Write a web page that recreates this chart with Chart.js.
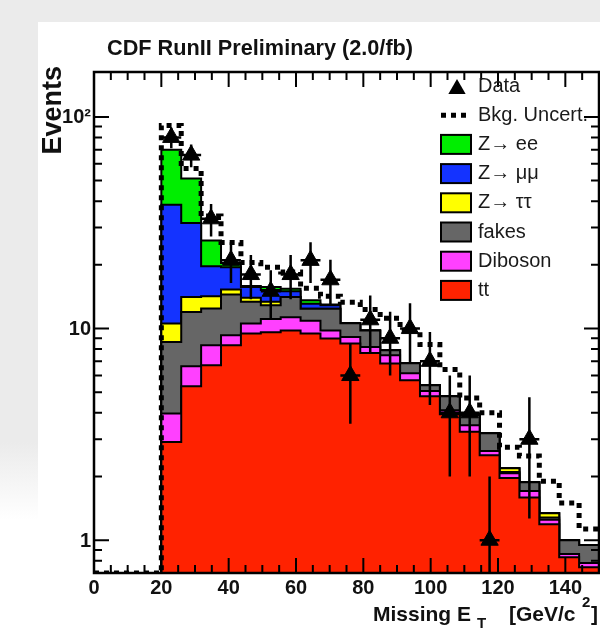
<!DOCTYPE html>
<html>
<head>
<meta charset="utf-8">
<script src="https://cdn.jsdelivr.net/npm/chart.js@4.4.0/dist/chart.umd.min.js"></script>
<style>
  html, body { margin: 0; padding: 0; overflow: hidden; background: #fff; }
  #wrap { position: relative; width: 600px; height: 629px; overflow: hidden; }
  .shade-top { position: absolute; left: 0; top: 0; width: 600px; height: 22px; background: #ebebeb; }
  .shade-left { position: absolute; left: 0; top: 0; width: 38px; height: 520px; background: linear-gradient(#ebebeb 85%, #fff); }
  canvas { position: absolute; left: 0; top: 0; }
</style>
</head>
<body>
<div id="wrap">
  <div class="shade-top"></div>
  <div class="shade-left"></div>
  <canvas id="met" width="610" height="629"></canvas>
</div>
<script>
// missing ET bins (GeV): 22 bins between 20 and 150
const binEdges = [20, 25.91, 31.82, 37.73, 43.64, 49.55, 55.45, 61.36, 67.27, 73.18, 79.09, 85,
                  90.91, 96.82, 102.73, 108.64, 114.55, 120.45, 126.36, 132.27, 138.18, 144.09, 150];

// expected events per bin, one array per background
const ttbar   = [2.91, 5.34, 6.71, 8.34, 9.47, 9.6, 9.8, 9.47, 8.97, 8.5, 7.67, 6.83, 5.7, 4.79, 3.94, 3.25, 2.52, 1.97, 1.59, 1.19, 0.83, 0.745];
const diboson = [1.06, 1.30, 1.63, 0.96, 1.09, 1.5, 1.5, 1.43, 0.83, 0.63, 0.52, 0.65, 0.45, 0.28, 0.17, 0.24, 0.12, 0.10, 0.12, 0.06, 0.03, 0.035];
const fakes   = [4.67, 5.34, 4.09, 5.2, 2.84, 1.8, 2.8, 1.5, 2.6, 1.47, 1.61, 0.42, 0.71, 0.33, 0.68, 0.40, 0.56, 0.03, 0.17, 0.03, 0.14, 0.17];
const zTauTau = [1.92, 2.12, 1.77, 0.8, 0.6, 0.5, 0, 0, 0, 0, 0, 0, 0, 0, 0, 0, 0, 0.09, 0, 0.06, 0, 0];
const zMuMu   = [27.9, 17.4, 5.5, 4.2, 1.7, 1.8, 0.9, 0.7, 0.5, 0, 0, 0, 0, 0, 0, 0, 0, 0, 0, 0, 0, 0];
const zEE     = [31.5, 19.6, 6.4, 0.9, 0.2, 0.5, 0.4, 0.5, 0.1, 0, 0, 0, 0, 0, 0, 0, 0, 0, 0, 0, 0, 0];

// upper edge of the background uncertainty band
const bkgUpper = [91, 57, 34, 25.5, 20.5, 19.5, 18.5, 15.5, 14.2, 13.3, 12.3, 11.2, 9.8, 8.4, 6.4, 4.7, 4.0, 2.75, 2.5, 1.9, 1.5, 1.13];

// observed events
const dataCounts = [80, 66, 33, 21, 18, 15, 18, 21, 17, 6, 11, 9, 10, 7, 4, 4, 1, 0, 3, 0, 0, 0];

const xTickLabels = [0, 20, 40, 60, 80, 100, 120, 140];
const yTickLabels = [[1, '1'], [10, '10'], [100, '10\u00b2']];

const X_MIN = 0, X_MAX = 150;
const Y_MIN = 0.7, Y_MAX = 163;

const layers = [
  { label: 'tt',              values: ttbar,   color: '#ff2200' },
  { label: 'Diboson',         values: diboson, color: '#ff40ff' },
  { label: 'fakes',           values: fakes,   color: '#666666' },
  { label: 'Z\u2192 \u03c4\u03c4', values: zTauTau, color: '#ffff00' },
  { label: 'Z\u2192 \u03bc\u03bc', values: zMuMu,   color: '#1433ff' },
  { label: 'Z\u2192 ee',      values: zEE,     color: '#00ee00' }
];

const FONT = '"Liberation Sans", Arial, Helvetica, sans-serif';

// step-histogram outline: rises from the floor at the first edge, then one step per bin
function histPoints(vals, startX) {
  const pts = [{ x: startX, y: Y_MIN }];
  vals.forEach((v, i) => pts.push({ x: binEdges[i], y: v }));
  pts.push({ x: binEdges[vals.length], y: vals[vals.length - 1] });
  return pts;
}

let running = ttbar.map(() => 0);
const stackSets = layers.map((l, k) => {
  running = running.map((v, i) => v + l.values[i]);
  return {
    type: 'line',
    label: l.label,
    data: histPoints(running, binEdges[0]),
    stepped: true,
    borderColor: '#000',
    borderWidth: 2,
    backgroundColor: l.color,
    fill: k === 0 ? 'start' : '-1',
    pointRadius: 0,
    order: 3
  };
});

const bandSet = {
  type: 'line',
  label: 'Bkg. Uncert.',
  data: histPoints(bkgUpper, X_MIN),
  stepped: true,
  borderColor: '#000',
  borderWidth: 5,
  borderDash: [5, 5],
  borderCapStyle: 'butt',
  fill: false,
  pointRadius: 0,
  order: 2
};

const dataPts = [];
dataCounts.forEach((n, i) => {
  if (n > 0) dataPts.push({ x: (binEdges[i] + binEdges[i + 1]) / 2, y: n, lo: binEdges[i], hi: binEdges[i + 1] });
});

const dataSet = {
  type: 'scatter',
  label: 'Data',
  data: dataPts,
  pointStyle: 'triangle',
  pointRadius: 10,
  backgroundColor: '#000',
  borderColor: '#000',
  borderWidth: 1,
  order: 1
};

function triangle(ctx, x, y, r) {
  ctx.beginPath();
  for (let k = 0; k < 3; k++) {
    const a = k * 2 * Math.PI / 3;
    ctx.lineTo(x + Math.sin(a) * r, y - Math.cos(a) * r);
  }
  ctx.closePath();
  ctx.fill();
}

// poisson error bars plus bin-width bars on the data points
const errorBars = {
  id: 'errorBars',
  afterDatasetsDraw(chart) {
    const { ctx, scales: { x, y }, chartArea } = chart;
    ctx.save();
    ctx.beginPath();
    ctx.rect(chartArea.left, chartArea.top, chartArea.right - chartArea.left, chartArea.bottom - chartArea.top);
    ctx.clip();
    ctx.strokeStyle = '#000';
    ctx.lineWidth = 2.5;
    dataPts.forEach(p => {
      const e = Math.sqrt(p.y);
      const px = x.getPixelForValue(p.x);
      const py = y.getPixelForValue(p.y);
      ctx.beginPath();
      ctx.moveTo(px, y.getPixelForValue(p.y + e));
      ctx.lineTo(px, y.getPixelForValue(Math.max(p.y - e, Y_MIN)));
      ctx.moveTo(x.getPixelForValue(p.lo), py);
      ctx.lineTo(x.getPixelForValue(p.hi), py);
      ctx.stroke();
    });
    ctx.restore();
  }
};

// frame, inward ticks, labels, title and legend
const decorations = {
  id: 'decorations',
  afterDraw(chart) {
    const { ctx, scales: { x, y }, chartArea: a } = chart;
    ctx.save();
    ctx.strokeStyle = '#000';
    ctx.fillStyle = '#111';

    ctx.lineWidth = 2.5;
    ctx.strokeRect(a.left, a.top, a.right - a.left, a.bottom - a.top);

    ctx.lineWidth = 2;
    ctx.beginPath();
    for (let v = X_MIN; v <= X_MAX; v += 5) {
      const px = x.getPixelForValue(v);
      const len = v % 20 === 0 ? 15 : 8;
      ctx.moveTo(px, a.bottom); ctx.lineTo(px, a.bottom - len);
      ctx.moveTo(px, a.top);    ctx.lineTo(px, a.top + len);
    }
    for (let d = 0.1; d <= 100; d *= 10) {
      for (let m = 1; m <= 9; m++) {
        const v = d * m;
        if (v < Y_MIN - 1e-9 || v > Y_MAX) continue;
        const py = y.getPixelForValue(v);
        const len = m === 1 ? 15 : 8;
        ctx.moveTo(a.left, py);  ctx.lineTo(a.left + len, py);
        ctx.moveTo(a.right, py); ctx.lineTo(a.right - len, py);
      }
    }
    ctx.stroke();

    // tick labels
    ctx.font = 'bold 20px ' + FONT;
    ctx.textAlign = 'center';
    ctx.textBaseline = 'top';
    xTickLabels.forEach(v => ctx.fillText(String(v), x.getPixelForValue(v), a.bottom + 5));
    ctx.textAlign = 'right';
    ctx.textBaseline = 'middle';
    yTickLabels.forEach(([v, t]) => ctx.fillText(t, a.left - 3, y.getPixelForValue(v) + 1));

    // title
    ctx.textAlign = 'left';
    ctx.textBaseline = 'alphabetic';
    ctx.font = 'bold 21.7px ' + FONT;
    ctx.fillText('CDF RunII Preliminary (2.0/fb)', 107, 55);

    // x axis title with subscript and superscript
    ctx.font = 'bold 21px ' + FONT;
    ctx.fillText('Missing E', 373, 621);
    ctx.fillText('[GeV/c', 509, 621);
    ctx.fillText(']', 591, 621);
    ctx.font = 'bold 15px ' + FONT;
    ctx.fillText('T', 477, 628);
    ctx.fillText('2', 582, 607);

    // y axis title
    ctx.save();
    ctx.translate(61, 66);
    ctx.rotate(-Math.PI / 2);
    ctx.textAlign = 'right';
    ctx.font = 'bold 27px ' + FONT;
    ctx.fillText('Events', 0, 0);
    ctx.restore();

    // legend
    const LX = 441, LY = 86, DY = 29.2;
    ctx.font = '20px ' + FONT;
    ctx.textAlign = 'left';
    ctx.textBaseline = 'middle';
    ctx.fillStyle = '#000';
    triangle(ctx, LX + 16, LY + 3, 10);
    ctx.fillStyle = '#1a1a1a';
    ctx.fillText('Data', 478, LY);

    ctx.lineWidth = 5;
    ctx.setLineDash([5, 5]);
    ctx.beginPath();
    ctx.moveTo(LX, LY + DY); ctx.lineTo(LX + 30, LY + DY);
    ctx.stroke();
    ctx.setLineDash([]);
    ctx.fillText('Bkg. Uncert.', 478, LY + DY);

    layers.slice().reverse().forEach((l, k) => {
      const cy = LY + DY * (k + 2);
      ctx.fillStyle = l.color;
      ctx.fillRect(LX, cy - 9.5, 30, 19);
      ctx.lineWidth = 2;
      ctx.strokeRect(LX, cy - 9.5, 30, 19);
      ctx.fillStyle = '#1a1a1a';
      ctx.fillText(l.label, 478, cy);
    });
    ctx.restore();
  }
};

new Chart(document.getElementById('met'), {
  type: 'line',
  data: { datasets: [...stackSets, bandSet, dataSet] },
  options: {
    responsive: false,
    animation: false,
    devicePixelRatio: 1,
    layout: { padding: { left: 94, top: 72, right: 6, bottom: 56 } },
    plugins: { legend: { display: false }, tooltip: { enabled: false } },
    scales: {
      x: { type: 'linear', min: X_MIN, max: X_MAX, display: false },
      y: { type: 'logarithmic', min: Y_MIN, max: Y_MAX, display: false }
    }
  },
  plugins: [errorBars, decorations]
});
</script>
</body>
</html>
